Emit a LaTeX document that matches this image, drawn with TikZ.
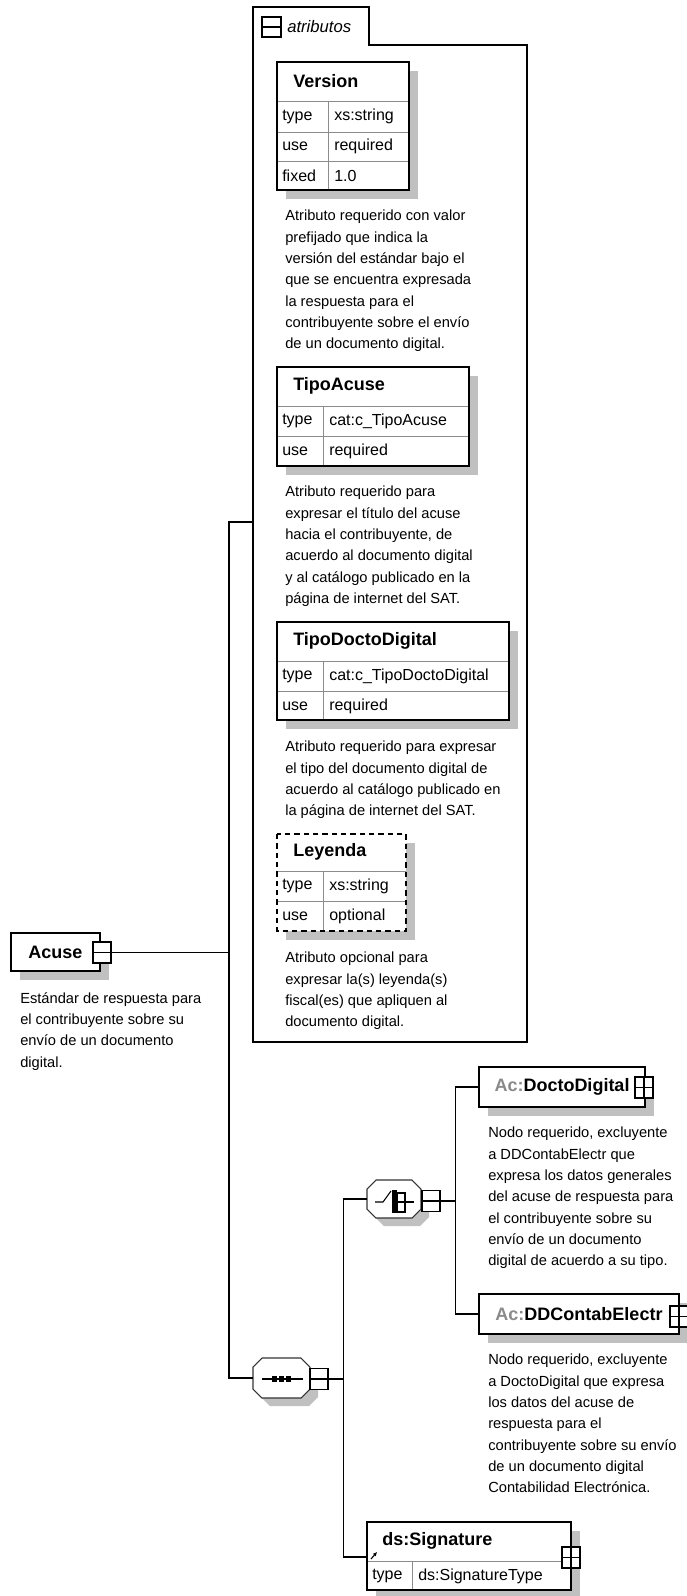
\documentclass[tikz,border=0pt]{standalone}
\usepackage{fontspec}
\setmainfont{Liberation Sans}
\usetikzlibrary{shadows,arrows.meta}
\definecolor{shadowgray}{HTML}{C0C0C0}
\definecolor{grid}{HTML}{8C8C8C}
\definecolor{nsgray}{HTML}{8A8A8A}
\tikzset{
  conn/.style={line width=1pt},
  desc/.style={anchor=north west, align=left, inner sep=0pt, font=\fontsize{11}{16}\selectfont},
  hdr/.style={anchor=west, inner sep=0pt, font=\fontsize{13.5}{16}\selectfont\bfseries},
  cell/.style={anchor=west, inner sep=0pt, font=\fontsize{12}{14}\selectfont},
  elem/.style={draw, line width=1pt, fill=white, inner sep=0pt, minimum height=30pt,
    font=\fontsize{13.5}{16}\selectfont\bfseries,
    drop shadow={shadow xshift=6.75pt, shadow yshift=-6.75pt, fill=shadowgray, opacity=1}},
  octo/.style={inner sep=0pt, minimum width=42.75pt, minimum height=30pt},
  octline/.style={draw=black!80, line width=0.8pt, fill=white},
  icon/.style={draw, line width=1.2pt, fill=white, minimum width=13.5pt, minimum height=15.75pt, inner sep=0pt},
  minus/.style={icon, path picture={\draw[line width=0.8pt] (path picture bounding box.west) -- (path picture bounding box.east);}},
  plus/.style={icon, path picture={\draw[line width=0.8pt] (path picture bounding box.west) -- (path picture bounding box.east)
    (path picture bounding box.north) -- (path picture bounding box.south);}},
  tabedge/.style={line width=1.2pt},
}
\begin{document}
\begin{tikzpicture}[x=0.75pt, y=-0.75pt]
\useasboundingbox (0,0) rectangle (686,1596);
% attribute group
\draw[fill=white, line width=1pt] (253,7) -- (369,7) -- (369,45) -- (527,45) -- (527,1042) -- (253,1042) -- cycle;
\node[minus, minimum width=14.25pt, minimum height=15pt] (attrM) at (271.5,27) {};
\node[anchor=west, inner sep=0pt, font=\fontsize{12.5}{14}\selectfont\itshape] (attrlbl) at (287,27) {atributos};
\coordinate (attrin) at (253,522);

% Version
\fill[shadowgray] (286,71) rectangle (418,199);
\draw[fill=white] (277,62) rectangle (409,190);
\draw[grid] (277,101) -- (409,101) (277,132) -- (409,132) (277,161) -- (409,161) (328,101) -- (328,190);
\draw[tabedge] (277,62) rectangle (409,190);
\node[hdr] (ver) at (293,81) {Version};
\foreach \k/\v [count=\i] in {type/xs:string, use/required, fixed/1.0}
{
    \node[cell] (ver-k\i) at (282,87+29.7*\i) {\k};
    \node[cell] (ver-v\i) at (334,87+29.7*\i) {\v};
}
\node[desc] (verdesc) at (285,210) {Atributo requerido con valor\\prefijado que indica la\\versión del estándar bajo el\\que se encuentra expresada\\la respuesta para el\\contribuyente sobre el envío\\de un documento digital.};

% TipoAcuse
\fill[shadowgray] (286,376) rectangle (478,475);
\draw[fill=white] (277,367) rectangle (469,466);
\draw[grid] (277,406) -- (469,406) (277,436) -- (469,436) (323,406) -- (323,466);
\draw[tabedge] (277,367) rectangle (469,466);
\node[hdr] (tac) at (293,386) {TipoAcuse};
\foreach \k/\v [count=\i] in {type/cat:c\_TipoAcuse, use/required}
{
    \node[cell] (tac-k\i) at (282,391+30*\i) {\k};
    \node[cell] (tac-v\i) at (329,391+30*\i) {\v};
}
\node[desc] (tacdesc) at (285,486) {Atributo requerido para\\expresar el título del acuse\\hacia el contribuyente, de\\acuerdo al documento digital\\y al catálogo publicado en la\\página de internet del SAT.};

% TipoDoctoDigital
\fill[shadowgray] (286,631) rectangle (518,729);
\draw[fill=white] (277,622) rectangle (509,720);
\draw[grid] (277,661) -- (509,661) (277,691) -- (509,691) (323,661) -- (323,720);
\draw[tabedge] (277,622) rectangle (509,720);
\node[hdr] (tdd) at (293,641) {TipoDoctoDigital};
\foreach \k/\v [count=\i] in {type/cat:c\_TipoDoctoDigital, use/required}
{
    \node[cell] (tdd-k\i) at (282,646+30*\i) {\k};
    \node[cell] (tdd-v\i) at (329,646+30*\i) {\v};
}
\node[desc] (tdddesc) at (285,741) {Atributo requerido para expresar\\el tipo del documento digital de\\acuerdo al catálogo publicado en\\la página de internet del SAT.};

% Leyenda
\fill[shadowgray] (286,843) rectangle (415,940);
\fill[white] (277,834) rectangle (406,931);
\draw[grid] (277,871) -- (406,871) (277,901) -- (406,901) (323,871) -- (323,931);
\draw[tabedge, dash pattern=on 4pt off 3pt] (277,834) rectangle (406,931);
\node[hdr] (ley) at (293,852) {Leyenda};
\foreach \k/\v [count=\i] in {type/xs:string, use/optional}
{
    \node[cell] (ley-k\i) at (282,856+30*\i) {\k};
    \node[cell] (ley-v\i) at (329,856+30*\i) {\v};
}
\node[desc] (leydesc) at (285,952) {Atributo opcional para\\expresar la(s) leyenda(s)\\fiscal(es) que apliquen al\\documento digital.};

% root element
\node[elem, minimum width=66.75pt, minimum height=28.5pt] (acuse) at (55.5,952) {Acuse};
\node[minus] (acuseM) at (102,952.5) {};
\node[desc] (acusedesc) at (20,992) {Estándar de respuesta para\\el contribuyente sobre su\\envío de un documento\\digital.};

% sequence
\fill[shadowgray, shift={(8,8)}] (253,1367) -- (262,1358) -- (301,1358) -- (310,1367) -- (310,1389) -- (301,1398) -- (262,1398) -- (253,1389) -- cycle;
\draw[octline] (253,1367) -- (262,1358) -- (301,1358) -- (310,1367) -- (310,1389) -- (301,1398) -- (262,1398) -- (253,1389) -- cycle;
\node[octo] (seq) at (281.5,1378) {};
\draw[line width=0.8pt] (262,1379) -- (303,1379);
\foreach \i in {0,1,2}
{
    \fill (272+7*\i,1376) rectangle ++(5,6);
}
\node[minus] (seqM) at (319,1379) {};

% choice
\fill[shadowgray, shift={(8,8)}] (367,1189) -- (376,1180) -- (412,1180) -- (421,1189) -- (421,1209) -- (412,1218) -- (376,1218) -- (367,1209) -- cycle;
\draw[octline] (367,1189) -- (376,1180) -- (412,1180) -- (421,1189) -- (421,1209) -- (412,1218) -- (376,1218) -- (367,1209) -- cycle;
\node[octo, minimum width=40.5pt, minimum height=28.5pt] (chc) at (394,1199) {};
\draw[line width=0.8pt] (375,1202) -- (383,1202) -- (391,1191);
\fill (392,1190) rectangle (397,1213);
\draw[line width=0.8pt] (397,1193) rectangle (405,1212) (397,1202) -- (414,1202);
\node[minus] (chcM) at (431,1201) {};

% children of choice
\node[elem, minimum width=124.5pt] (docto) at (562,1087) {\textcolor{nsgray}{Ac:}DoctoDigital};
\node[plus] (doctoP) at (644,1087.5) {};
\node[desc] (doctodesc) at (488,1127) {Nodo requerido, excluyente\\a DDContabElectr que\\expresa los datos generales\\del acuse de respuesta para\\el contribuyente sobre su\\envío de un documento\\digital de acuerdo a su tipo.};
\node[elem, minimum width=150pt] (ddc) at (579,1314) {\textcolor{nsgray}{Ac:}DDContabElectr};
\node[plus] (ddcP) at (679,1316.5) {};
\node[desc] (ddcdesc) at (488,1354) {Nodo requerido, excluyente\\a DoctoDigital que expresa\\los datos del acuse de\\respuesta para el\\contribuyente sobre su envío\\de un documento digital\\Contabilidad Electrónica.};

% signature
\fill[shadowgray] (376,1531) rectangle (580,1599);
\draw[fill=white] (367,1522) rectangle (571,1590);
\draw[grid] (367,1561) -- (571,1561) (412,1561) -- (412,1590);
\draw[tabedge] (367,1522) rectangle (571,1590);
\node[hdr] (sig) at (382,1541) {ds:Signature};
\node[cell] (sig-k1) at (372,1576) {type};
\node[cell] (sig-v1) at (418,1576) {ds:SignatureType};
\draw[-{Latex[length=3pt,width=3pt]}, line width=0.8pt] (371,1559) -- (377,1552);
\node[plus] (sigP) at (571,1557.5) {};
\coordinate (sigin) at (367,1557);

% connectors
\coordinate (busA) at (229,522);
\draw[conn] (acuseM.east) -- (acuseM.east -| busA);
\draw[conn] (attrin) -- (busA) |- (seq.west);
\draw[conn] (seqM.east) -- ++(15,0) coordinate (busB);
\draw[conn] (chc.west) -| (busB) |- (sigin);
\draw[conn] (chcM.east) -- ++(15,0) coordinate (busC);
\draw[conn] (docto.west) -| (busC) |- (ddc.west);
\end{tikzpicture}
\end{document}
